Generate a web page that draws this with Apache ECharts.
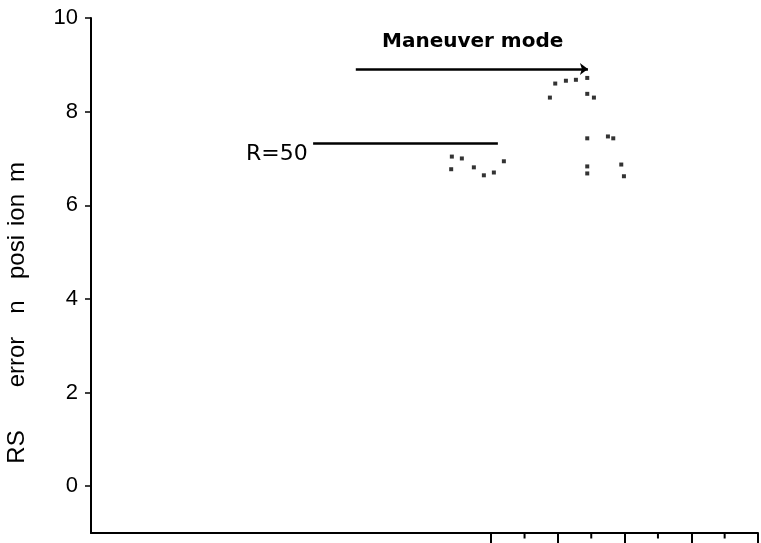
<!DOCTYPE html>
<html>
<head>
<meta charset="utf-8">
<script src="https://cdn.jsdelivr.net/npm/echarts@6/dist/echarts.min.js"></script>
<style>html,body{margin:0;padding:0;background:#fff}#c{width:761px;height:543px}</style>
</head>
<body>
<div id="c"></div>
<script>
// Data
const xValues = [5.41, 5.56, 5.40, 5.74, 5.89, 6.04, 6.19,
                 6.96, 7.12, 7.27, 7.44, 6.88, 7.44, 7.54,
                 7.44, 7.75, 7.83, 7.44, 7.44, 7.95, 7.99];
const yValues = [7.04, 7.00, 6.77, 6.81, 6.64, 6.70, 6.94,
                 8.60, 8.66, 8.68, 8.72, 8.30, 8.38, 8.30,
                 7.43, 7.47, 7.43, 6.83, 6.68, 6.87, 6.62];
const yTickValues = [0, 2, 4, 6, 8, 10];
const xTickValues = [6, 7, 8, 9, 10];
const xMinorValues = [6.5, 7.5, 8.5, 9.5];
const maneuverArrow = [[3.97, 8.91], [7.45, 8.91]];
const rLine = [[3.33, 7.32], [6.1, 7.32]];
const maneuverLabel = 'Maneuver mode';
const rLabel = 'R=50';
// y title pieces (as they appear) and their vertical centres
const yTitleParts = ['RS', 'error', 'n', 'posi', 'ion', 'm'];
const yTitleCentres = [447, 362, 307, 257, 210, 172];

const pts = xValues.map((x, i) => [x, yValues[i]]);

const chart = echarts.init(document.getElementById('c'));
chart.setOption({
  animation: false,
  grid: {left: 91, right: 3, top: 18, bottom: 10},
  xAxis: {
    type: 'value', min: 0, max: 10,
    axisLine: {onZero: false, lineStyle: {color: '#000', width: 2}},
    axisTick: {show: true, length: 10, customValues: xTickValues, lineStyle: {color: '#000', width: 2}},
    axisLabel: {show: false},
    splitLine: {show: false}
  },
  yAxis: {
    type: 'value', min: -1, max: 10,
    axisLine: {show: true, lineStyle: {color: '#000', width: 2}},
    axisTick: {show: true, length: 6, customValues: yTickValues, lineStyle: {color: '#000', width: 1.5}},
    axisLabel: {customValues: yTickValues, color: '#000', fontFamily: 'Liberation Sans', fontSize: 22, margin: 13},
    splitLine: {show: false}
  },
  series: [
    {
      type: 'scatter', data: pts, symbol: 'rect', symbolSize: 4,
      itemStyle: {color: '#000'}
    },
    {
      type: 'line', data: rLine, symbol: 'none',
      lineStyle: {color: '#000', width: 2.5}
    },
    {
      type: 'line', data: [], symbol: 'none',
      markLine: {
        silent: true, symbol: ['none', 'arrow'], symbolSize: [9, 8],
        label: {show: false},
        lineStyle: {color: '#000', width: 2.5, type: 'solid'},
        data: [[{coord: maneuverArrow[0]}, {coord: maneuverArrow[1]}]]
      }
    },
    {
      type: 'scatter', data: [],
      markPoint: {
        symbol: 'rect', itemStyle: {color: '#000'},
        label: {show: false},
        data: xMinorValues.map(v => ({coord: [v, -1], symbolOffset: [0, 3], symbolSize: [2, 5]}))
      }
    }
  ],
  graphic: [
    {type: 'text', x: 382, y: 42, style: {text: maneuverLabel, font: 'bold 20px "DejaVu Sans"', fill: '#000', verticalAlign: 'middle'}},
    {type: 'text', x: 246, y: 154, style: {text: rLabel, font: '22px "DejaVu Sans"', fill: '#000', verticalAlign: 'middle'}}
  ].concat(yTitleParts.map((t, i) => ({
    type: 'text', x: 17, y: yTitleCentres[i], rotation: Math.PI / 2,
    style: {text: t, font: '24px "Liberation Sans"', fill: '#000', align: 'center', verticalAlign: 'middle'}
  })))
});
</script>
</body>
</html>
